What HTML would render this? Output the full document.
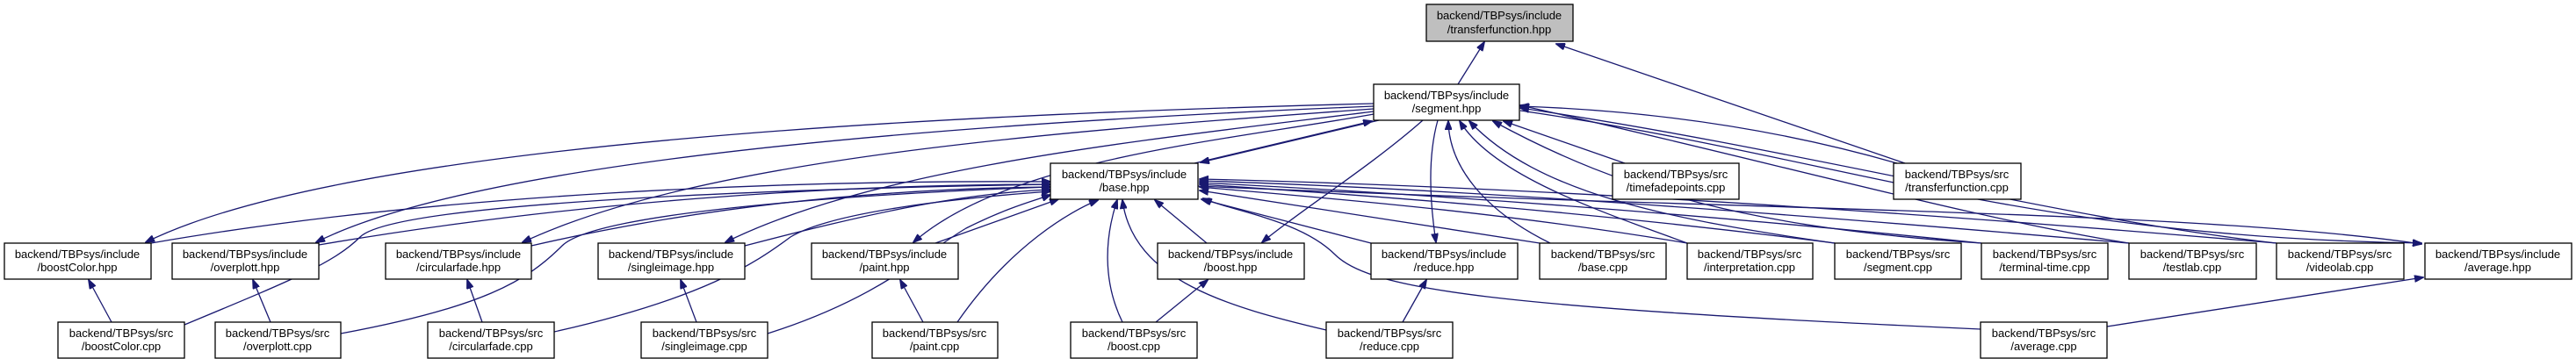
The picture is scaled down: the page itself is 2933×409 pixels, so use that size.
<!DOCTYPE html>
<html><head><meta charset="utf-8"><style>
html,body{margin:0;padding:0;background:#fff;}
svg{display:block}
text{font-family:"Liberation Sans",sans-serif;font-size:13px;fill:#000;text-anchor:middle}
.e{fill:none;stroke:#191970;stroke-width:1.3;marker-end:url(#a)}
.b{fill:#fff;stroke:#000;stroke-width:1.3}
</style></head><body>
<svg width="2933" height="409" viewBox="0 0 2933 409" xmlns="http://www.w3.org/2000/svg">
<defs><marker id="a" markerWidth="11" markerHeight="8" refX="10" refY="4" orient="auto" markerUnits="userSpaceOnUse"><path d="M0,0 L11,4 L0,8z" fill="#191970" stroke="#191970"/></marker></defs>
<g>
<path class="e" d="M1660,96 L1690,48"/>
<path class="e" d="M2169,186 L1772,50"/>
<path class="e" d="M1564,118 C1100,130 400,160 166,276"/>
<path class="e" d="M1564,121 C1100,140 550,180 360,276"/>
<path class="e" d="M1564,124 C1200,150 800,180 595,276"/>
<path class="e" d="M1564,127 C1300,160 1000,190 826,276"/>
<path class="e" d="M1564,130 C1400,160 1150,180 1040,276"/>
<path class="e" d="M1620,137 C1560,190 1480,240 1437,276"/>
<path class="e" d="M1637,137 C1625,180 1628,230 1635,276"/>
<path class="e" d="M1765,277 C1690,240 1650,190 1649,138"/>
<path class="e" d="M1921,277 C1820,240 1700,200 1662,138"/>
<path class="e" d="M2089,277 C1900,250 1750,220 1673,138"/>
<path class="e" d="M2256,277 C2000,260 1850,220 1700,138"/>
<path class="e" d="M1850,186 L1712,138"/>
<path class="e" d="M2424,277 C2250,250 2000,180 1731,120"/>
<path class="e" d="M2592,277 C2350,250 2050,170 1731,123"/>
<path class="e" d="M1731,126 C2100,180 2300,270 2757,277"/>
<path class="e" d="M1364,212 C2000,240 2500,240 2757,278"/>
<path class="e" d="M2160,186 C2000,140 1850,125 1731,121"/>
<path class="e" d="M2399,372 L2759,316"/>
<path class="e" d="M1570,137 L1367,185"/>
<path class="e" d="M1360,186 L1562,138"/>
<path class="e" d="M172,277 C500,220 900,205 1196,207"/>
<path class="e" d="M363,279 C650,230 950,210 1196,210"/>
<path class="e" d="M605,280 C800,235 1000,215 1196,213"/>
<path class="e" d="M848,280 C1000,240 1100,220 1196,216"/>
<path class="e" d="M1065,277 L1205,227"/>
<path class="e" d="M210,370 C330,320 380,300 410,270 C450,230 900,215 1196,210"/>
<path class="e" d="M388,380 C550,350 600,320 640,280 C680,240 1000,220 1196,213"/>
<path class="e" d="M631,378 C800,340 860,300 900,270 C950,240 1100,225 1196,218"/>
<path class="e" d="M874,380 C1000,340 1050,290 1100,260 C1150,235 1180,228 1196,222"/>
<path class="e" d="M1090,367 C1150,280 1220,240 1250,228"/>
<path class="e" d="M1278,367 C1255,320 1258,270 1272,228"/>
<path class="e" d="M1510,376 C1400,350 1290,320 1278,228"/>
<path class="e" d="M1374,277 L1315,228"/>
<path class="e" d="M2255,375 C1700,350 1560,330 1520,290 C1480,250 1400,240 1370,226"/>
<path class="e" d="M1561,277 L1368,227"/>
<path class="e" d="M1753,277 L1366,217"/>
<path class="e" d="M1921,277 C1700,240 1500,225 1366,213"/>
<path class="e" d="M2089,277 C1800,240 1550,222 1366,210"/>
<path class="e" d="M2256,277 C1900,240 1600,220 1366,208"/>
<path class="e" d="M2424,277 C2000,240 1650,215 1366,206"/>
<path class="e" d="M2592,277 C2100,235 1700,212 1366,204"/>
<path class="e" d="M127,367 L101,319"/>
<path class="e" d="M308,367 L288,319"/>
<path class="e" d="M549,367 L532,319"/>
<path class="e" d="M793,367 L775,319"/>
<path class="e" d="M1051,367 L1025,319"/>
<path class="e" d="M1316,367 L1375,319"/>
<path class="e" d="M1597,367 L1624,319"/>
</g>
<g>
<rect x="1624" y="5" width="167" height="42" fill="#bfbfbf" stroke="#000" stroke-width="1.3"/>
<text x="1707" y="22">backend/TBPsys/include</text><text x="1707" y="38">/transferfunction.hpp</text>
<rect class="b" x="1564" y="96" width="166" height="41"/><text x="1647" y="113">backend/TBPsys/include</text><text x="1647" y="128">/segment.hpp</text>
<rect class="b" x="1196" y="186" width="168" height="41"/><text x="1280" y="203">backend/TBPsys/include</text><text x="1280" y="218">/base.hpp</text>
<rect class="b" x="1836" y="186" width="144" height="41"/><text x="1908" y="203">backend/TBPsys/src</text><text x="1908" y="218">/timefadepoints.cpp</text>
<rect class="b" x="2156" y="186" width="145" height="41"/><text x="2228" y="203">backend/TBPsys/src</text><text x="2228" y="218">/transferfunction.cpp</text>

<rect class="b" x="5" y="277" width="167" height="41"/><text x="88" y="294">backend/TBPsys/include</text><text x="88" y="309">/boostColor.hpp</text>
<rect class="b" x="196" y="277" width="167" height="41"/><text x="279" y="294">backend/TBPsys/include</text><text x="279" y="309">/overplott.hpp</text>
<rect class="b" x="439" y="277" width="166" height="41"/><text x="522" y="294">backend/TBPsys/include</text><text x="522" y="309">/circularfade.hpp</text>
<rect class="b" x="681" y="277" width="167" height="41"/><text x="764" y="294">backend/TBPsys/include</text><text x="764" y="309">/singleimage.hpp</text>
<rect class="b" x="924" y="277" width="167" height="41"/><text x="1007" y="294">backend/TBPsys/include</text><text x="1007" y="309">/paint.hpp</text>
<rect class="b" x="1318" y="277" width="167" height="41"/><text x="1401" y="294">backend/TBPsys/include</text><text x="1401" y="309">/boost.hpp</text>
<rect class="b" x="1561" y="277" width="167" height="41"/><text x="1644" y="294">backend/TBPsys/include</text><text x="1644" y="309">/reduce.hpp</text>
<rect class="b" x="1753" y="277" width="144" height="41"/><text x="1825" y="294">backend/TBPsys/src</text><text x="1825" y="309">/base.cpp</text>
<rect class="b" x="1921" y="277" width="143" height="41"/><text x="1992" y="294">backend/TBPsys/src</text><text x="1992" y="309">/interpretation.cpp</text>
<rect class="b" x="2089" y="277" width="144" height="41"/><text x="2161" y="294">backend/TBPsys/src</text><text x="2161" y="309">/segment.cpp</text>
<rect class="b" x="2256" y="277" width="144" height="41"/><text x="2328" y="294">backend/TBPsys/src</text><text x="2328" y="309">/terminal-time.cpp</text>
<rect class="b" x="2424" y="277" width="145" height="41"/><text x="2496" y="294">backend/TBPsys/src</text><text x="2496" y="309">/testlab.cpp</text>
<rect class="b" x="2592" y="277" width="145" height="41"/><text x="2664" y="294">backend/TBPsys/src</text><text x="2664" y="309">/videolab.cpp</text>
<rect class="b" x="2761" y="277" width="167" height="41"/><text x="2844" y="294">backend/TBPsys/include</text><text x="2844" y="309">/average.hpp</text>

<rect class="b" x="66" y="367" width="144" height="41"/><text x="138" y="384">backend/TBPsys/src</text><text x="138" y="399">/boostColor.cpp</text>
<rect class="b" x="245" y="367" width="143" height="41"/><text x="316" y="384">backend/TBPsys/src</text><text x="316" y="399">/overplott.cpp</text>
<rect class="b" x="487" y="367" width="144" height="41"/><text x="559" y="384">backend/TBPsys/src</text><text x="559" y="399">/circularfade.cpp</text>
<rect class="b" x="730" y="367" width="144" height="41"/><text x="802" y="384">backend/TBPsys/src</text><text x="802" y="399">/singleimage.cpp</text>
<rect class="b" x="993" y="367" width="143" height="41"/><text x="1064" y="384">backend/TBPsys/src</text><text x="1064" y="399">/paint.cpp</text>
<rect class="b" x="1219" y="367" width="144" height="41"/><text x="1291" y="384">backend/TBPsys/src</text><text x="1291" y="399">/boost.cpp</text>
<rect class="b" x="1510" y="367" width="144" height="41"/><text x="1582" y="384">backend/TBPsys/src</text><text x="1582" y="399">/reduce.cpp</text>
<rect class="b" x="2255" y="367" width="144" height="41"/><text x="2327" y="384">backend/TBPsys/src</text><text x="2327" y="399">/average.cpp</text>
</g>
</svg>
</body></html>
